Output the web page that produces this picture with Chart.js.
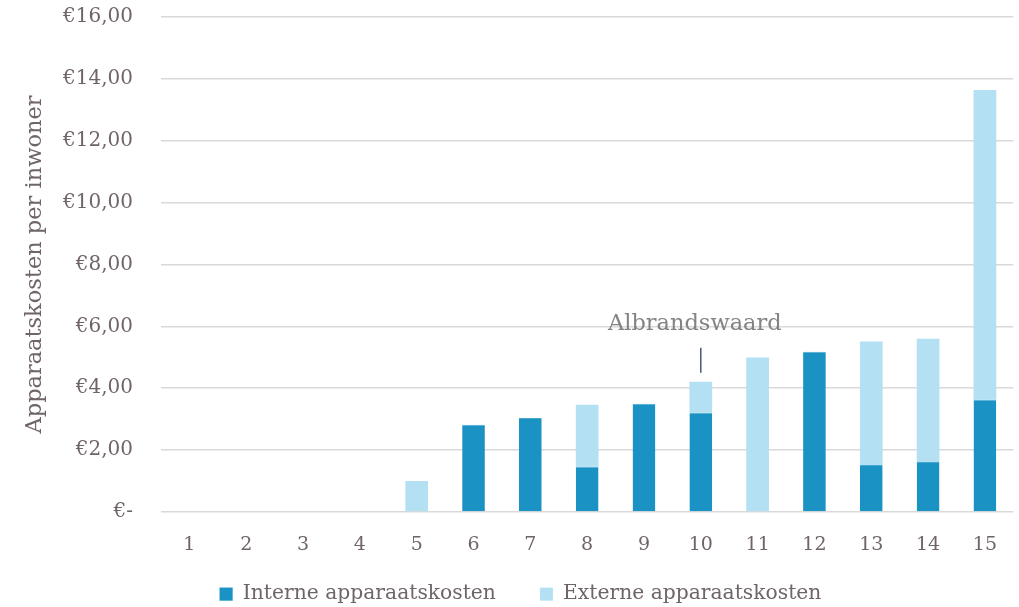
<!DOCTYPE html>
<html><head><meta charset="utf-8">
<script src="https://cdn.jsdelivr.net/npm/chart.js@4/dist/chart.umd.min.js"></script>
<style>html,body{margin:0;padding:0;background:#fff}#wrap{width:1019px;height:607px}</style>
</head><body><div id="wrap"><canvas id="c"></canvas></div>
<script>
const categories = ['1','2','3','4','5','6','7','8','9','10','11','12','13','14','15'];
const interne = [0,0,0,0,0,2.82,3.04,1.46,3.50,3.21,0,5.18,1.52,1.62,3.63];
const externe = [0,0,0,0,1.00,0,0,2.01,0,1.00,4.99,0,3.99,3.98,10.01];
const yTicks = [0,2,4,6,8,10,12,14,16];
const annotationLabel = 'Albrandswaard';
const annotationIndex = 9;

const FONT = 'DejaVu Serif';
const TXT = '#6f6569';

const annot = {
  id: 'annot',
  afterLayout(chart) {
    if (chart.legend) { chart.legend.top -= 14; chart.legend.left += 9; chart.legend.right += 9; }
  },
  afterDatasetsDraw(chart) {
    const {ctx, scales:{x, y}} = chart;
    const total = interne[annotationIndex] + externe[annotationIndex];
    const px = x.getPixelForValue(annotationIndex);
    const top = y.getPixelForValue(total);
    ctx.save();
    ctx.strokeStyle = '#2c3e63';
    ctx.lineWidth = 1.3;
    ctx.beginPath();
    ctx.moveTo(px, top - 9);
    ctx.lineTo(px, top - 34);
    ctx.stroke();
    ctx.fillStyle = '#838383';
    ctx.font = '22.5px "' + FONT + '"';
    ctx.textAlign = 'center';
    ctx.textBaseline = 'middle';
    ctx.fillText(annotationLabel, px - 6, top - 58);
    ctx.restore();
  }
};

new Chart(document.getElementById('c'), {
  type: 'bar',
  data: {
    labels: categories,
    datasets: [
      {label: 'Interne apparaatskosten', data: interne, backgroundColor: '#1b92c4', borderColor:'#4aa8d0', borderWidth:{top:1}, borderSkipped:'bottom'},
      {label: 'Externe apparaatskosten', data: externe, backgroundColor: '#b3e1f3'}
    ]
  },
  options: {
    responsive: true, maintainAspectRatio: false, animation: false,
    layout: {padding: {top: 17, right: -4, left: 0, bottom: 0}},
    datasets: {bar: {barPercentage: 0.8, categoryPercentage: 0.5}},
    plugins: {
      legend: {
        position: 'bottom',
        maxHeight: 53,
        labels: {font: {family: FONT, size: 20.3}, color: TXT, boxWidth: 13, boxHeight: 13, padding: 44}
      },
      tooltip: {enabled: false}
    },
    scales: {
      x: {
        stacked: true,
        grid: {display: false, drawTicks: false},
        border: {display: false},
        afterFit(s){ s.height = 42; },
        ticks: {font: {family: FONT, size: 19}, color: TXT, padding: 22}
      },
      y: {
        stacked: true,
        min: 0, max: 16,
        afterBuildTicks(s){ s.ticks = yTicks.map(v => ({value: v})); },
        afterFit(s){ s.width = 161; },
        grid: {color: '#d9d9d9', lineWidth: 1.6, drawTicks: true, tickLength: 28, tickColor: 'rgba(0,0,0,0)'},
        border: {display: false},
        ticks: {
          font: {family: FONT, size: 20}, color: TXT, padding: 0,
          callback: v => v === 0 ? '€-' : '€' + v.toFixed(2).replace('.', ',')
        },
        title: {display: true, text: 'Apparaatskosten per inwoner', font: {family: FONT, size: 22.5}, color: TXT, padding: {top: 22, bottom: 0}}
      }
    }
  },
  plugins: [annot]
});
</script></body></html>
